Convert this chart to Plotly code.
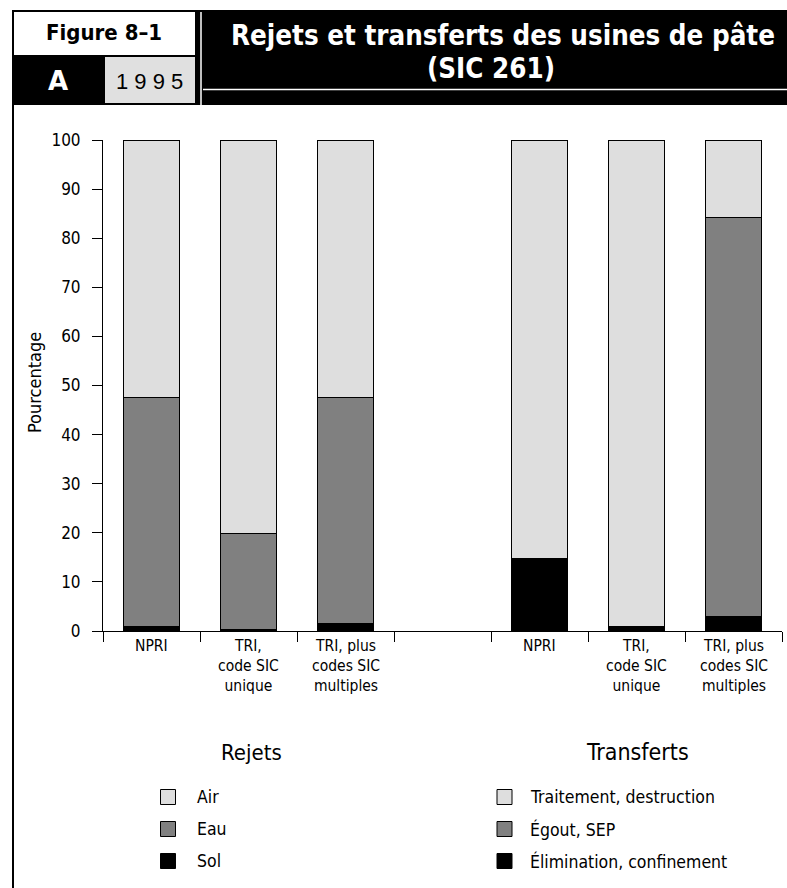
import plotly.graph_objects as go

# ---------------- data ----------------
slot_rejets = [0, 1, 2]
slot_transferts = [4, 5, 6]
category_labels = ["NPRI", "TRI,<br>code SIC<br>unique", "TRI, plus<br>codes SIC<br>multiples"]

rejets_sol = [1.0, 0.3, 1.5]
rejets_eau = [46.5, 19.5, 46.0]
rejets_air = [52.5, 80.2, 52.5]

transferts_elim = [14.8, 0.9, 3.0]
transferts_egout = [0.0, 0.0, 81.3]
transferts_trait = [85.2, 99.1, 15.7]

y_ticks = [0, 10, 20, 30, 40, 50, 60, 70, 80, 90, 100]

legend_rejets = ["Air", "Eau", "Sol"]
legend_transferts = ["Traitement, destruction", "Égout, SEP", "Élimination, confinement"]

# ---------------- style ----------------
LIGHT = "#dedede"
MID = "#808080"
DARK = "#000000"
NARROW = "DejaVu Sans Condensed, Liberation Sans Narrow, Arial Narrow, sans-serif"
W, H = 787, 888
L, R, T, B = 103, 5, 140, 257
PW, PH = W - L - R, H - T - B


def px(xp):
    return (xp - L) / PW


def py(yp):
    return (H - B - yp) / PH


fig = go.Figure()
for xs, series in [
    (slot_rejets, [(rejets_sol, DARK), (rejets_eau, MID), (rejets_air, LIGHT)]),
    (slot_transferts, [(transferts_elim, DARK), (transferts_egout, MID), (transferts_trait, LIGHT)]),
]:
    for vals, col in series:
        fig.add_trace(go.Bar(
            x=xs, y=vals, width=0.58,
            marker=dict(color=col, line=dict(color="black", width=1)),
            showlegend=False, hoverinfo="skip",
        ))

shapes = []
annotations = []


def rect(x0, y0, x1, y1, fill, line_w=0, line_c="black"):
    shapes.append(dict(type="rect", xref="paper", yref="paper",
                       x0=px(x0), x1=px(x1), y0=py(y0), y1=py(y1),
                       fillcolor=fill, line=dict(width=line_w, color=line_c), layer="above"))


def line(x0, y0, x1, y1, color, w):
    shapes.append(dict(type="line", xref="paper", yref="paper",
                       x0=px(x0), x1=px(x1), y0=py(y0), y1=py(y1),
                       line=dict(color=color, width=w), layer="above"))


# header block
rect(12, 10, 787, 105, "black")
rect(14, 12, 195, 55, "white")
rect(105, 57, 195, 103, "#e0e0e0")
line(201, 12, 201, 105, "white", 1.5)
line(203, 89.5, 787, 89.5, "white", 1.5)
line(13, 105, 13, 888, "black", 2)


def text(x, y, s, size, color="black", bold=False, family=NARROW, xanchor="center", yanchor="middle", angle=0):
    if bold:
        s = "<b>" + s + "</b>"
    annotations.append(dict(xref="paper", yref="paper", x=px(x), y=py(y), text=s,
                            showarrow=False, xanchor=xanchor, yanchor=yanchor, textangle=angle,
                            font=dict(size=size, color=color, family=family)))


text(104, 33, "Figure 8–1", 22, bold=True)
text(58, 81, "A", 26, color="white", bold=True, family="DejaVu Sans, sans-serif")
text(149, 81, "1 9 9 5", 22, family="Liberation Sans, Arial, sans-serif")
text(503, 35, "Rejets et transferts des usines de pâte", 27.5, color="white", bold=True)
text(491, 68, "(SIC 261)", 27.5, color="white", bold=True)

# y axis title
text(34, 383, "Pourcentage", 18, angle=-90)

# category labels
for xs in (slot_rejets, slot_transferts):
    for xv, lab in zip(xs, category_labels):
        annotations.append(dict(xref="x", yref="paper", x=xv, y=py(635), text=lab,
                                showarrow=False, xanchor="center", yanchor="top",
                                font=dict(size=15.5, color="black", family=NARROW)))

# legends
text(251, 752, "Rejets", 22)
text(637, 752, "Transferts", 23)
legend_colors = [LIGHT, MID, DARK]
legend_y = [797, 829, 861]
for names, sx, tx in [(legend_rejets, 168, 195), (legend_transferts, 504.5, 528)]:
    for name, col, yy in zip(names, legend_colors, legend_y):
        rect(sx - 7.5, yy - 7.5, sx + 7.5, yy + 7.5, col, line_w=1)
        text(tx, yy, name, 17.5, xanchor="left")

fig.update_layout(
    width=W, height=H,
    margin=dict(l=L, r=R, t=T, b=B),
    barmode="stack",
    plot_bgcolor="white", paper_bgcolor="white",
    font=dict(family=NARROW, size=17, color="black"),
    shapes=shapes, annotations=annotations,
    xaxis=dict(range=[-0.5, 6.5], tickmode="array",
               tickvals=[-0.5, 0.5, 1.5, 2.5, 3.5, 4.5, 5.5, 6.5],
               ticks="outside", ticklen=10, tickcolor="black", showticklabels=False,
               showline=True, linecolor="black", linewidth=1, showgrid=False, zeroline=False),
    yaxis=dict(range=[0, 100], tickmode="array", tickvals=y_ticks,
               ticks="outside", ticklen=10, tickcolor="black",
               showline=True, linecolor="black", linewidth=1, showgrid=False, zeroline=False,
               tickfont=dict(size=17, family=NARROW), ticklabelstandoff=8),
)

fig.write_html("out.html", config={"displayModeBar": False},
               post_script="document.body.style.margin='0px';")
